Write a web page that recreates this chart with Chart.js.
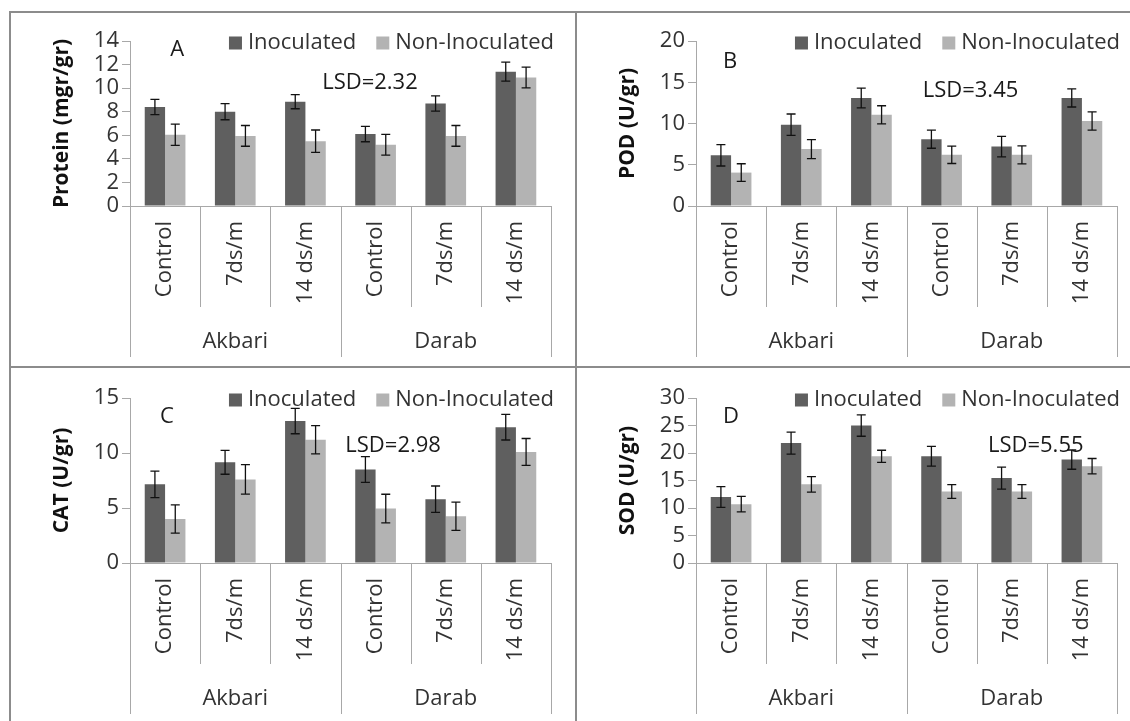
<!DOCTYPE html>
<html><head><meta charset="utf-8">
<script src="https://cdn.jsdelivr.net/npm/chart.js@4.4.1/dist/chart.umd.min.js"></script>
<style>
html,body{margin:0;padding:0;background:#fff;width:1130px;height:721px;overflow:hidden;position:relative;}
.frame{position:absolute;background:#8c8c8c;}
canvas{position:absolute;}
</style></head><body>
<div class="frame" style="left:9px;top:11px;width:1121px;height:2px"></div>
<div class="frame" style="left:9px;top:366px;width:1121px;height:2px"></div>
<div class="frame" style="left:9px;top:11px;width:2px;height:710px"></div>
<div class="frame" style="left:575px;top:11px;width:2px;height:710px"></div>
<canvas id="cA" width="552" height="350" style="left:12px;top:14px"></canvas>
<canvas id="cB" width="552" height="350" style="left:578px;top:14px"></canvas>
<canvas id="cC" width="552" height="350" style="left:12px;top:371px"></canvas>
<canvas id="cD" width="552" height="350" style="left:578px;top:371px"></canvas>
<script>
// ---- data ----
const categories = ["Control", "7ds/m", "14 ds/m", "Control", "7ds/m", "14 ds/m"];
const groups = ["Akbari", "Darab"];
const seriesNames = ["Inoculated", "Non-Inoculated"];

const proteinInoc    = [8.4, 8.0, 8.85, 6.1, 8.7, 11.4];
const proteinInocErr = [0.65, 0.68, 0.6, 0.65, 0.65, 0.8];
const proteinNon     = [6.05, 5.95, 5.5, 5.2, 5.95, 10.9];
const proteinNonErr  = [0.9, 0.88, 0.95, 0.88, 0.88, 0.88];

const podInoc    = [6.15, 9.85, 13.1, 8.1, 7.2, 13.1];
const podInocErr = [1.3, 1.3, 1.2, 1.1, 1.25, 1.1];
const podNon     = [4.05, 6.9, 11.05, 6.2, 6.2, 10.3];
const podNonErr  = [1.07, 1.15, 1.1, 1.05, 1.1, 1.1];

const catInoc    = [7.15, 9.15, 12.9, 8.5, 5.8, 12.35];
const catInocErr = [1.2, 1.08, 1.15, 1.17, 1.2, 1.17];
const catNon     = [4.0, 7.6, 11.2, 4.95, 4.25, 10.1];
const catNonErr  = [1.28, 1.34, 1.28, 1.3, 1.28, 1.22];

const sodInoc    = [12.0, 21.8, 25.0, 19.4, 15.45, 18.8];
const sodInocErr = [1.9, 2.0, 1.95, 1.8, 2.0, 1.75];
const sodNon     = [10.7, 14.3, 19.4, 13.0, 13.0, 17.6];
const sodNonErr  = [1.4, 1.4, 1.1, 1.25, 1.25, 1.4];

const yTitles = ["Protein (mgr/gr)", "POD (U/gr)", "CAT (U/gr)", "SOD (U/gr)"];
const yMax  = [14, 20, 15, 30];
const yStep = [2, 5, 5, 5];
const panelLetters = ["A", "B", "C", "D"];
const lsdLabels = ["LSD=2.32", "LSD=3.45", "LSD=2.98", "LSD=5.55"];

// ---- styling ----
const FONT = '"Open Sans", "Noto Sans", sans-serif';
const FS = 22;
const DARK = '#5f5f5f', LIGHT = '#b3b3b3', AXIS = '#a8a8a8', TXT = '#333333';

const deco = {
  id: 'deco',
  beforeDatasetsDraw(chart, args, o) {
    const {ctx, chartArea: a} = chart;
    ctx.save();
    ctx.font = FS + 'px ' + FONT;
    ctx.fillStyle = '#1a1a1a';
    ctx.textAlign = 'center';
    ctx.textBaseline = 'middle';
    ctx.fillText(o.letter, a.left + o.letterPos[0] * a.width, a.top + o.letterPos[1] * a.height);
    ctx.fillText(o.lsd, a.left + o.lsdPos[0] * a.width, a.top + o.lsdPos[1] * a.height);
    // legend (right aligned at top of plot area)
    const ds = chart.data.datasets;
    const sq = 13, gapSq = 6, gapItem = 20;
    let xEnd = a.right + 3;
    const yc = a.top + 2;
    ctx.textAlign = 'left';
    for (let i = ds.length - 1; i >= 0; i--) {
      const w = ctx.measureText(ds[i].label).width;
      const tx = xEnd - w;
      ctx.fillStyle = TXT;
      ctx.fillText(ds[i].label, tx, yc);
      ctx.fillStyle = ds[i].backgroundColor;
      ctx.fillRect(tx - gapSq - sq, yc - sq / 2, sq, sq);
      xEnd = tx - gapSq - sq - gapItem;
    }
    ctx.restore();
  },
  afterDatasetsDraw(chart, args, o) {
    const {ctx} = chart;
    const ys = chart.scales.y;
    ctx.save();
    ctx.strokeStyle = '#111';
    ctx.lineWidth = 1.3;
    chart.data.datasets.forEach((ds, di) => {
      const meta = chart.getDatasetMeta(di);
      meta.data.forEach((el, i) => {
        const v = ds.data[i], e = o.errors[di][i];
        const y1 = ys.getPixelForValue(v + e), y2 = ys.getPixelForValue(v - e);
        const x = el.x, h = 4.5;
        ctx.beginPath();
        ctx.moveTo(x, y1); ctx.lineTo(x, y2);
        ctx.moveTo(x - h, y1); ctx.lineTo(x + h, y1);
        ctx.moveTo(x - h, y2); ctx.lineTo(x + h, y2);
        ctx.stroke();
      });
    });
    ctx.restore();
  },
  afterDraw(chart, args, o) {
    const {ctx, chartArea: a} = chart;
    const xs = chart.scales.x;
    ctx.save();
    ctx.strokeStyle = AXIS;
    ctx.lineWidth = 1;
    for (let i = 0; i <= categories.length; i++) {
      const px = Math.round(xs.getPixelForValue(i - 0.5)) + 0.5;
      const isGroup = (i % 3 === 0);
      ctx.beginPath();
      ctx.moveTo(px, a.bottom);
      ctx.lineTo(px, a.bottom + (isGroup ? 151 : 101));
      ctx.stroke();
    }
    ctx.font = FS + 'px ' + FONT;
    ctx.fillStyle = TXT;
    ctx.textAlign = 'center';
    ctx.textBaseline = 'middle';
    groups.forEach((g, gi) => {
      const cx = xs.getPixelForValue(gi * 3 + 1);
      ctx.fillText(g, cx, a.bottom + 136);
    });
    ctx.restore();
  }
};

function makePanel(id, idx, inoc, inocErr, non, nonErr, letterPos, lsdPos) {
  new Chart(document.getElementById(id), {
    type: 'bar',
    data: {
      labels: categories,
      datasets: [
        {label: seriesNames[0], data: inoc, backgroundColor: DARK, categoryPercentage: 0.58, barPercentage: 1.0},
        {label: seriesNames[1], data: non, backgroundColor: LIGHT, categoryPercentage: 0.58, barPercentage: 1.0}
      ]
    },
    options: {
      responsive: false,
      animation: false,
      devicePixelRatio: 1,
      layout: {padding: {top: 27, right: 13, left: 0, bottom: 0}},
      plugins: {
        legend: {display: false},
        tooltip: {enabled: false},
        deco: {letter: panelLetters[idx], lsd: lsdLabels[idx], letterPos, lsdPos, errors: [inocErr, nonErr]}
      },
      scales: {
        x: {
          grid: {display: false, drawTicks: false},
          border: {display: true, color: AXIS, width: 1},
          ticks: {minRotation: 90, maxRotation: 90, autoSkip: false, padding: 15,
                  color: TXT, font: {family: FONT, size: FS}},
          afterFit: s => { s.height = 158; }
        },
        y: {
          min: 0, max: yMax[idx],
          grid: {drawOnChartArea: false, drawTicks: true, tickLength: 8, color: AXIS},
          border: {display: true, color: AXIS, width: 1},
          ticks: {stepSize: yStep[idx], autoSkip: false, padding: 3, color: TXT, font: {family: FONT, size: FS}},
          title: {display: true, text: yTitles[idx], color: '#111', padding: {top: 37, bottom: 0},
                  font: {family: FONT, size: 21, weight: 'bold'}},
          afterFit: s => { s.width = 118; }
        }
      }
    },
    plugins: [deco]
  });
}

makePanel('cA', 0, proteinInoc, proteinInocErr, proteinNon, proteinNonErr, [0.112, 0.055], [0.57, 0.255]);
makePanel('cB', 1, podInoc, podInocErr, podNon, podNonErr, [0.081, 0.126], [0.652, 0.30]);
makePanel('cC', 2, catInoc, catInocErr, catNon, catNonErr, [0.088, 0.115], [0.625, 0.29]);
makePanel('cD', 3, sodInoc, sodInocErr, sodNon, sodNonErr, [0.083, 0.115], [0.807, 0.29]);
</script>
</body></html>
